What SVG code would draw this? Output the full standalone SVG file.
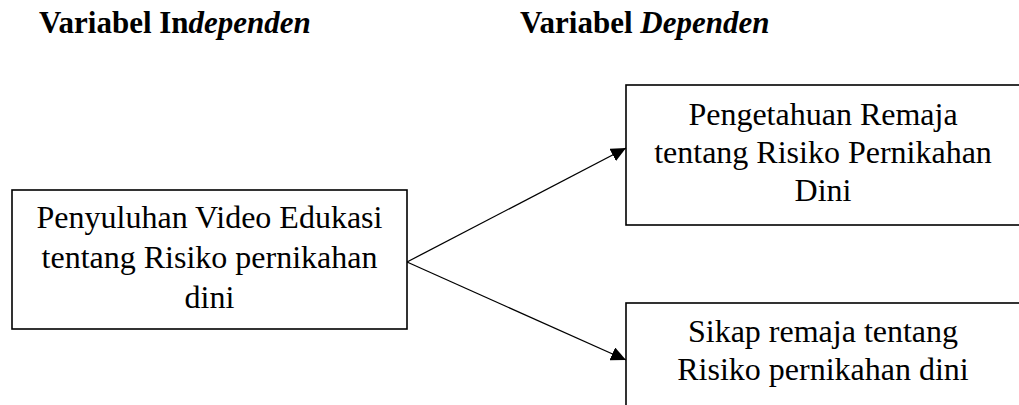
<svg xmlns="http://www.w3.org/2000/svg" width="1019" height="405" viewBox="0 0 1019 405">
<defs>
<style>
.box{fill:#fff;stroke:#000;stroke-width:1.6}
.t{font-family:"Liberation Serif","Times New Roman",serif;font-size:32px;fill:#000;text-anchor:middle}
.h{font-family:"Liberation Serif","Times New Roman",serif;font-size:31px;font-weight:bold;fill:#000}
.c{stroke:#000;stroke-width:1.3;fill:none}
</style>
<marker id="ah" markerUnits="userSpaceOnUse" markerWidth="16" markerHeight="14" refX="15" refY="7" orient="auto">
<path d="M0,0 L15,7 L0,14 Z" fill="#000"/>
</marker>
</defs>
<rect width="1019" height="405" fill="#fff"/>
<g id="title-independen">
<text class="h" x="39" y="33">Variabel In<tspan font-style="italic">dependen</tspan></text>
</g>
<g id="title-dependen">
<text class="h" x="520" y="33">Variabel <tspan font-style="italic">Dependen</tspan></text>
</g>
<g id="connectors">
<line class="c" x1="407" y1="262" x2="626" y2="148" marker-end="url(#ah)"/>
<line class="c" x1="407" y1="262" x2="626" y2="360" marker-end="url(#ah)"/>
</g>
<g id="node-penyuluhan">
<rect class="box" x="12" y="190" width="395" height="139"/>
<text class="t" x="209.5" y="228">Penyuluhan Video Edukasi</text>
<text class="t" x="209.5" y="268">tentang Risiko pernikahan</text>
<text class="t" x="209.5" y="308">dini</text>
</g>
<g id="node-pengetahuan">
<rect class="box" x="626" y="85" width="400" height="140"/>
<text class="t" x="823" y="125">Pengetahuan Remaja</text>
<text class="t" x="823" y="163">tentang Risiko Pernikahan</text>
<text class="t" x="823" y="201">Dini</text>
</g>
<g id="node-sikap">
<rect class="box" x="626" y="303" width="400" height="120"/>
<text class="t" x="823" y="342">Sikap remaja tentang</text>
<text class="t" x="823" y="380">Risiko pernikahan dini</text>
</g>
</svg>
